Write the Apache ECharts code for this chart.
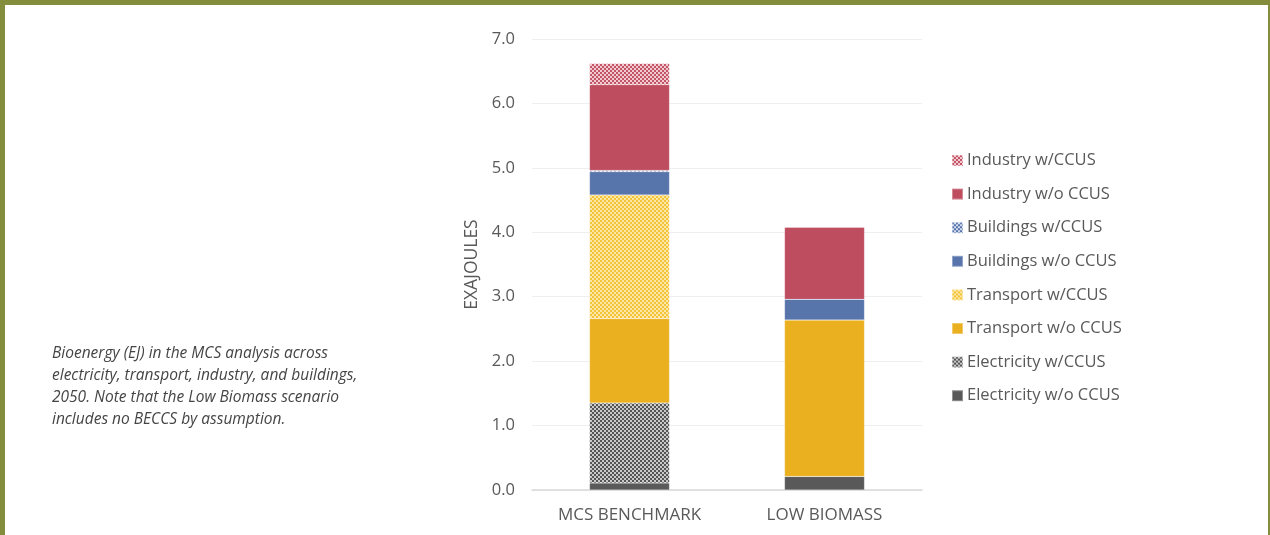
<!DOCTYPE html>
<html>
<head>
<meta charset="utf-8">
<script src="https://cdn.jsdelivr.net/npm/echarts@6/dist/echarts.min.js"></script>
<style>
html,body{margin:0;padding:0;background:#fff;}
#frame{position:absolute;left:0;top:0;width:1263px;height:535px;border-left:5px solid #838d3b;border-top:5px solid #838d3b;border-right:2px solid #838d3b;box-sizing:content-box;}
#chart{position:absolute;left:0;top:0;width:1270px;height:535px;}
</style>
</head>
<body>
<div id="frame"></div>
<div id="chart"></div>
<script>
// ---- data ----
const categories = ['MCS BENCHMARK', 'LOW BIOMASS'];
const seriesNames = ['Electricity w/o CCUS', 'Electricity w/CCUS', 'Transport w/o CCUS', 'Transport w/CCUS', 'Buildings w/o CCUS', 'Buildings w/CCUS', 'Industry w/o CCUS', 'Industry w/CCUS'];
const electricityWo = [0.11, 0.21];
const electricityW  = [1.24, 0];
const transportWo   = [1.31, 2.43];
const transportW    = [1.92, 0];
const buildingsWo   = [0.36, 0.32];
const buildingsW    = [0.02, 0];
const industryWo    = [1.33, 1.12];
const industryW     = [0.33, 0];
const yTicks = ['0.0','1.0','2.0','3.0','4.0','5.0','6.0','7.0'];
const caption = ['Bioenergy (EJ) in the MCS analysis across', 'electricity, transport, industry, and buildings,', '2050. Note that the Low Biomass scenario', 'includes no BECCS by assumption.'];

function checker(c1, c2) {
  const cv = document.createElement('canvas');
  cv.width = 4; cv.height = 4;
  const ctx = cv.getContext('2d');
  ctx.fillStyle = c2; ctx.fillRect(0, 0, 4, 4);
  ctx.fillStyle = c1;
  ctx.fillRect(0, 0, 2, 2); ctx.fillRect(2, 2, 2, 2);
  return { image: cv, repeat: 'repeat' };
}

const colors = {
  'Electricity w/o CCUS': '#595959',
  'Electricity w/CCUS': checker('#555555', '#c9c9c9'),
  'Transport w/o CCUS': '#eab020',
  'Transport w/CCUS': checker('#f4c438', '#fde7a6'),
  'Buildings w/o CCUS': '#5875ab',
  'Buildings w/CCUS': checker('#5875ab', '#d3dcee'),
  'Industry w/o CCUS': '#be4d5f',
  'Industry w/CCUS': checker('#c25566', '#f2c9d0')
};
const dataMap = {
  'Electricity w/o CCUS': electricityWo,
  'Electricity w/CCUS': electricityW,
  'Transport w/o CCUS': transportWo,
  'Transport w/CCUS': transportW,
  'Buildings w/o CCUS': buildingsWo,
  'Buildings w/CCUS': buildingsW,
  'Industry w/o CCUS': industryWo,
  'Industry w/CCUS': industryW
};

const chart = echarts.init(document.getElementById('chart'), null, { renderer: 'canvas' });
const font = '"Open Sans", "Noto Sans", sans-serif';

const option = {
  animation: false,
  textStyle: { fontFamily: font },
  grid: { left: 532, right: 348, top: 39, bottom: 45 },
  legend: {
    orient: 'vertical',
    left: 946,
    top: 147,
    itemWidth: 11,
    itemHeight: 11,
    itemGap: 16.6,
    icon: 'rect',
    data: seriesNames.slice().reverse(),
    textStyle: { fontSize: 16.5, color: '#595959', fontFamily: font, padding: [0, 0, 0, -1] }
  },
  xAxis: {
    type: 'category',
    data: categories,
    axisLine: { lineStyle: { color: '#d9d9d9', width: 1.5 } },
    axisTick: { show: false },
    axisLabel: { fontSize: 17, color: '#595959', margin: 17, fontFamily: font }
  },
  yAxis: {
    type: 'value',
    min: 0, max: 7, interval: 1,
    name: 'EXAJOULES',
    nameLocation: 'middle',
    nameGap: 51,
    nameTextStyle: { fontSize: 17.5, color: '#595959', fontFamily: font },
    axisLine: { show: false },
    axisTick: { show: false },
    splitLine: { lineStyle: { color: '#efefef', width: 1 } },
    axisLabel: { fontSize: 16.5, color: '#595959', margin: 17, formatter: v => yTicks[Math.round(v)], fontFamily: font }
  },
  series: seriesNames.map(n => ({
    name: n,
    type: 'bar',
    stack: 'total',
    barWidth: 80,
    data: dataMap[n],
    itemStyle: { color: colors[n], borderColor: 'rgba(255,255,255,0.35)', borderWidth: 0.5 }
  })),
  graphic: caption.map((t, i) => ({
    type: 'text',
    left: 52,
    top: 346 + i * 22,
    style: { text: t, font: 'italic 15.5px ' + font, fill: '#454545' }
  }))
};
chart.setOption(option);
</script>
</body>
</html>
